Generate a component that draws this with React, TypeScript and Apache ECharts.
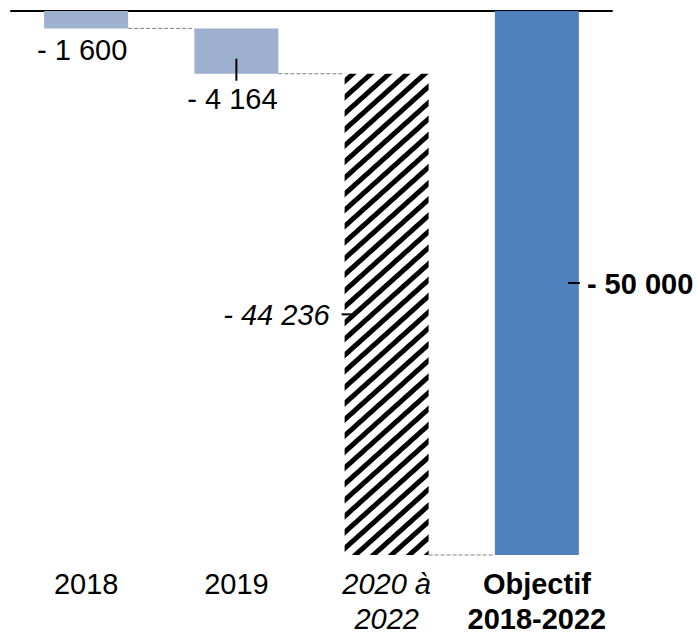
import React, { useEffect, useRef } from 'react';
import * as echarts from 'echarts';

// ---- data ----
const categories = ['2018', '2019', '2020 à\n2022', 'Objectif\n2018-2022'];
const deltas = [-1600, -4164, -44236, -50000];
const isTotal = [false, false, false, true];
const valueLabels = ['- 1 600', '- 4 164', '- 44 236', '- 50 000'];
const yMin = -50000;
const yMax = 0;

// ---- styles ----
const FONT = '"Liberation Sans", Arial, sans-serif';
const FS = 29;
const lightBlue = '#9DB0CF';
const darkBlue = '#4F81BD';
const labelPlacement = ['below', 'below', 'left', 'right'];
const labelFontStyle = ['normal', 'normal', 'italic', 'normal'];
const labelFontWeight = ['normal', 'normal', 'normal', 'bold'];
const BAR_W = 84;

export default function App() {
  const ref = useRef<HTMLDivElement>(null);
  useEffect(() => {
    document.body.style.margin = '0';
    const chart = echarts.init(ref.current!, null, { renderer: 'svg' });

    const bases: number[] = [];
    const ends: number[] = [];
    let run = 0;
    deltas.forEach((d, i) => {
      if (isTotal[i]) {
        bases.push(0);
        ends.push(d);
      } else {
        bases.push(run);
        run += d;
        ends.push(run);
      }
    });

    const itemStyles = [
      { color: lightBlue },
      { color: lightBlue },
      {
        color: '#ffffff',
        decal: {
          symbol: 'rect',
          symbolSize: 1,
          color: '#000000',
          backgroundColor: '#ffffff',
          dashArrayX: [1, 0],
          dashArrayY: [4.5, 6.5],
          rotation: -Math.PI / 4.3,
        },
      },
      { color: darkBlue },
    ];

    const xData = categories.map((c, i) => ({
      value: c,
      textStyle: {
        fontStyle: i === 2 ? 'italic' : 'normal',
        fontWeight: i === 3 ? 'bold' : 'normal',
      },
    }));

    chart.setOption({
      animation: false,
      grid: { left: 11, right: 85, top: 11, bottom: 76 },
      xAxis: [
        {
          type: 'category',
          data: xData,
          position: 'bottom',
          axisLine: { show: false },
          axisTick: { show: false },
          axisLabel: {
            interval: 0,
            margin: 11,
            fontSize: FS,
            lineHeight: 35,
            color: '#000',
            fontFamily: FONT,
          },
        },
        {
          type: 'category',
          data: categories,
          position: 'top',
          axisLine: { show: true, onZero: false, lineStyle: { color: '#000', width: 2 } },
          axisTick: { show: false },
          axisLabel: { show: false },
        },
      ],
      yAxis: {
        type: 'value',
        min: yMin,
        max: yMax,
        show: false,
        splitLine: { show: false },
      },
      series: [
        {
          type: 'bar',
          stack: 'w',
          barWidth: BAR_W,
          itemStyle: { color: 'rgba(0,0,0,0)' },
          data: bases,
          silent: true,
        },
        {
          type: 'bar',
          stack: 'w',
          barWidth: BAR_W,
          data: deltas.map((v, i) => ({ value: v, itemStyle: itemStyles[i] })),
        },
      ],
    });

    const px = (i: number, v: number) =>
      chart.convertToPixel({ xAxisIndex: 0, yAxisIndex: 0 }, [i, v]) as number[];
    const half = BAR_W / 2;
    const elements: any[] = [];

    // connectors
    for (let i = 0; i < categories.length - 1; i++) {
      const a = px(i, ends[i]);
      const b = px(i + 1, ends[i]);
      elements.push({
        type: 'line',
        z: 100,
        shape: { x1: a[0] + half, y1: a[1], x2: b[0] - half, y2: b[1] },
        style: { stroke: '#808080', lineWidth: 1, lineDash: [4, 2] },
      });
    }

    // value labels
    categories.forEach((_, i) => {
      const top = px(i, bases[i]);
      const bot = px(i, ends[i]);
      const cx = top[0];
      const midY = (top[1] + bot[1]) / 2;
      const font = {
        fontSize: FS,
        fontFamily: FONT,
        fontStyle: labelFontStyle[i],
        fontWeight: labelFontWeight[i],
        fill: '#000',
      };
      if (labelPlacement[i] === 'below') {
        const offY = i === 0 ? 22 : 25;
        if (i === 1) {
          elements.push({
            type: 'line',
            z: 100,
            shape: { x1: cx, y1: bot[1] - 15, x2: cx, y2: bot[1] + 7 },
            style: { stroke: '#000', lineWidth: 2 },
          });
        }
        elements.push({
          type: 'text',
          z: 100,
          x: cx - 4,
          y: bot[1] + offY,
          style: { text: valueLabels[i], align: 'center', verticalAlign: 'middle', ...font },
        });
      } else if (labelPlacement[i] === 'left') {
        const left = cx - half;
        elements.push({
          type: 'line',
          z: 100,
          shape: { x1: left - 3, y1: midY, x2: left + 9, y2: midY },
          style: { stroke: '#000', lineWidth: 2 },
        });
        elements.push({
          type: 'text',
          z: 100,
          x: left - 15,
          y: midY + 1,
          style: { text: valueLabels[i], align: 'right', verticalAlign: 'middle', ...font },
        });
      } else {
        const right = cx + half;
        elements.push({
          type: 'line',
          z: 100,
          shape: { x1: right - 11, y1: midY, x2: right + 1, y2: midY },
          style: { stroke: '#000', lineWidth: 2 },
        });
        elements.push({
          type: 'text',
          z: 100,
          x: right + 8,
          y: midY + 1,
          style: { text: valueLabels[i], align: 'left', verticalAlign: 'middle', ...font },
        });
      }
    });

    chart.setOption({ graphic: { elements } });

    return () => chart.dispose();
  }, []);

  return <div ref={ref} style={{ width: 697, height: 636 }} />;
}
